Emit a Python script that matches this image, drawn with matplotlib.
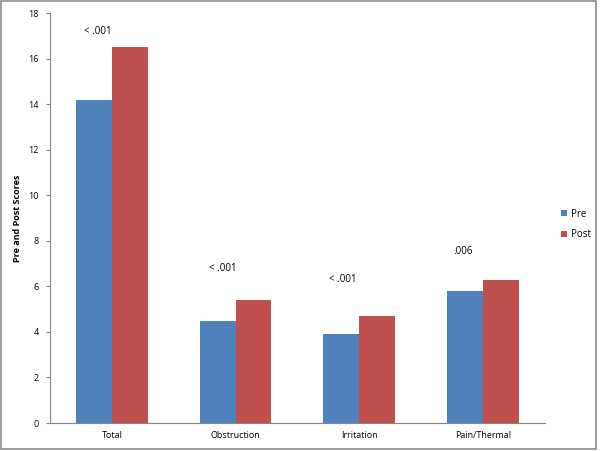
import matplotlib

matplotlib.use("Agg")
import matplotlib.pyplot as plt
import numpy as np
from matplotlib.patches import Rectangle

categories = ["Total", "Obstruction", "Irritation", "Pain/Thermal"]
pre = [14.2, 4.5, 3.9, 5.8]
post = [16.5, 5.4, 4.7, 6.3]
p_labels = ["< .001", "< .001", "< .001", ".006"]
p_label_x = [-0.11, 0.90, 1.87, 2.84]
p_label_y = [17.2, 6.8, 6.3, 7.55]

BLUE = "#4F81BD"
RED = "#C0504D"
GRID = "#868686"

plt.rcParams["font.family"] = ["Open Sans", "DejaVu Sans"]

fig = plt.figure(figsize=(6.0, 4.51), dpi=100)
ax = fig.add_axes([0.0833, 0.062, 0.825, 0.909])

x = np.arange(len(categories))
w = 0.29
ax.bar(x - w / 2, pre, w, color=BLUE, label="Pre")
ax.bar(x + w / 2, post, w, color=RED, label="Post")

for lab, xx, yy in zip(p_labels, p_label_x, p_label_y):
    ax.text(xx, yy, lab, ha="center", va="center", fontsize=7)

ax.set_xlim(-0.5, len(categories) - 0.5)
ax.set_ylim(0, 18)
ax.set_yticks(range(0, 19, 2))
ax.set_xticks(x)
ax.set_xticklabels(categories, fontsize=6.5)
ax.tick_params(axis="y", labelsize=6.5, length=3, color=GRID, pad=5)
ax.tick_params(axis="x", length=0, pad=6)
ax.set_ylabel("Pre and Post Scores", fontsize=6.5, fontweight="bold")
ax.yaxis.set_label_coords(-0.057, 0.5)

for side in ("top", "right"):
    ax.spines[side].set_visible(False)
for side in ("left", "bottom"):
    ax.spines[side].set_color(GRID)
    ax.spines[side].set_linewidth(0.8)

ax.legend(loc="center left", bbox_to_anchor=(1.033, 0.484), frameon=False,
          fontsize=7, handlelength=0.6, handleheight=0.6, handletextpad=0.4,
          labelspacing=1.0, borderpad=0, borderaxespad=0)

fig.patches.append(Rectangle((0.002, 0.004), 0.991, 0.993, transform=fig.transFigure,
                             fill=False, edgecolor="#8c8c8c", linewidth=1.2))

fig.savefig("out.png", dpi=100)
